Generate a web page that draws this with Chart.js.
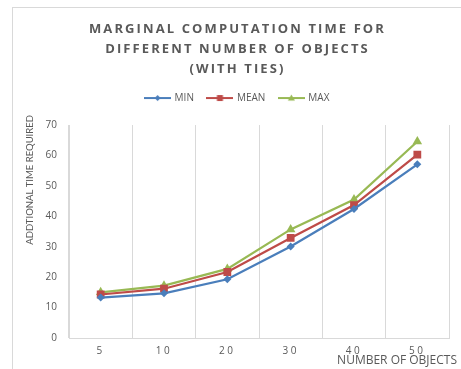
<!DOCTYPE html>
<html>
<head>
<meta charset="utf-8">
<script src="https://cdn.jsdelivr.net/npm/chart.js@4/dist/chart.umd.min.js"></script>
<style>
  html, body { margin: 0; padding: 0; background: #ffffff; }
  canvas { display: block; }
</style>
</head>
<body>
<canvas id="c" width="461" height="369"></canvas>
<script>
// ---- data ----
const categories = ['5', '10', '20', '30', '40', '50'];
const minValues  = [13.3, 14.7, 19.3, 30.1, 42.4, 57.1];
const meanValues = [14.3, 16.2, 21.7, 32.9, 43.7, 60.3];
const maxValues  = [15.0, 17.2, 22.7, 35.7, 45.5, 64.6];
const seriesNames = ['MIN', 'MEAN', 'MAX'];
const yTickMin = 0, yTickMax = 70, yTickStep = 10;
const titleLines = ['MARGINAL COMPUTATION TIME FOR', 'DIFFERENT NUMBER OF OBJECTS', '(WITH TIES)'];
const xTitle = 'NUMBER OF OBJECTS';
const yTitle = 'ADDTIONAL TIME REQUIRED';

// ---- styling ----
const colors = ['#4a7ebb', '#be4b48', '#98b954'];
const styles = ['rectRot', 'rect', 'triangle'];
const radii = [4, 5.5, 5.5];
const FONT = "'Open Sans', 'DejaVu Sans', sans-serif";
const NARROW = "Lato, 'Open Sans', sans-serif";
const TXT = '#595959';
const GRID = '#d9d9d9';

function legendIcon(i) {
  const c = document.createElement('canvas');
  c.width = 27; c.height = 10;
  const g = c.getContext('2d');
  g.strokeStyle = colors[i]; g.fillStyle = colors[i]; g.lineWidth = 2;
  g.beginPath(); g.moveTo(0, 5); g.lineTo(27, 5); g.stroke();
  g.beginPath();
  if (styles[i] === 'rectRot') { g.moveTo(13.5, 2); g.lineTo(16.5, 5); g.lineTo(13.5, 8); g.lineTo(10.5, 5); g.closePath(); }
  else if (styles[i] === 'rect') { g.rect(10.5, 2, 6, 6); }
  else { g.moveTo(13.5, 1.5); g.lineTo(17, 7.5); g.lineTo(10, 7.5); g.closePath(); }
  g.fill();
  return c;
}
const icons = [0, 1, 2].map(legendIcon);

const tweaks = {
  id: 'tweaks',
  beforeLayout(chart) {
    const lg = chart.legend;
    if (lg && !lg._patched) {
      const orig = lg.fit;
      lg.fit = function () { orig.call(this); this.height += 12; };
      lg._patched = true;
    }
  },
  afterLayout(chart) {
    const tb = chart.titleBlock;
    if (tb && !tb._patched) {
      const o = tb.draw;
      tb.draw = function () { const ctx = this.ctx; ctx.letterSpacing = '2.1px'; o.apply(this, arguments); ctx.letterSpacing = '0px'; };
      tb._patched = true;
    }
    const xs = chart.scales.x, ys = chart.scales.y;
    if (xs && !xs._patched) {
      const dl = xs.drawLabels;
      xs.drawLabels = function () { const ctx = this.ctx; ctx.letterSpacing = '2.5px'; dl.apply(this, arguments); ctx.letterSpacing = '0px'; };
      const dt = xs.drawTitle;
      xs.drawTitle = function () { const r = this.right; this.right = r + 8; dt.apply(this, arguments); this.right = r; };
      xs._patched = true;
    }
    if (ys && !ys._patched) {
      const dt = ys.drawTitle;
      ys.drawTitle = function () { const t = this.top; this.top = t - 10; dt.apply(this, arguments); this.top = t; };
      ys._patched = true;
    }
  },
  beforeDraw(chart) {
    const ctx = chart.ctx;
    ctx.save();
    ctx.fillStyle = '#ffffff';
    ctx.fillRect(0, 0, chart.width, chart.height);
    ctx.strokeStyle = GRID; ctx.lineWidth = 1;
    ctx.strokeRect(12.5, 7.5, 600, 600);
    ctx.restore();
  }
};

const valueSets = [minValues, meanValues, maxValues];
new Chart(document.getElementById('c'), {
  type: 'line',
  data: {
    labels: categories,
    datasets: valueSets.map((vals, i) => ({
      label: seriesNames[i],
      data: vals,
      borderColor: colors[i],
      backgroundColor: colors[i],
      borderWidth: 2.25,
      pointStyle: styles[i],
      pointRadius: radii[i],
      pointBorderWidth: 0,
      pointBackgroundColor: colors[i],
      tension: 0,
      fill: false
    }))
  },
  options: {
    responsive: false,
    animation: false,
    devicePixelRatio: 1,
    layout: { padding: { top: 0, left: 26, right: 12, bottom: 0 } },
    plugins: {
      tooltip: { enabled: false },
      title: {
        display: true,
        text: titleLines,
        color: TXT,
        font: { family: FONT, size: 13, weight: 'bold', lineHeight: 1.54 },
        padding: { top: 19, bottom: 0 }
      },
      legend: {
        display: true,
        position: 'top',
        labels: {
          usePointStyle: true,
          pointStyleWidth: 24,
          color: TXT,
          padding: 14,
          font: { family: FONT, size: 10 },
          generateLabels(chart) {
            return Chart.defaults.plugins.legend.labels.generateLabels(chart).map((l, i) => ({ ...l, pointStyle: icons[i] }));
          }
        }
      }
    },
    scales: {
      x: {
        offset: true,
        grid: { display: true, offset: true, color: GRID, drawTicks: false, lineWidth: 1 },
        border: { display: true, color: GRID },
        ticks: { color: TXT, padding: 7, font: { family: FONT, size: 10 } },
        title: { display: true, text: xTitle, align: 'end', color: TXT, font: { family: FONT, size: 12 }, padding: { top: 0, bottom: 1 } },
        afterFit(scale) { scale.height = 31; }
      },
      y: {
        min: yTickMin, max: yTickMax,
        grid: { display: false, drawTicks: false },
        border: { display: true, color: GRID },
        ticks: { stepSize: yTickStep, color: TXT, padding: 12, font: { family: FONT, size: 10 } },
        title: { display: true, text: yTitle, align: 'end', color: TXT, font: { family: NARROW, size: 9.5 }, padding: { top: -2, bottom: 0 } },
        afterFit(scale) { scale.width = 43; }
      }
    }
  },
  plugins: [tweaks]
});
</script>
</body>
</html>
